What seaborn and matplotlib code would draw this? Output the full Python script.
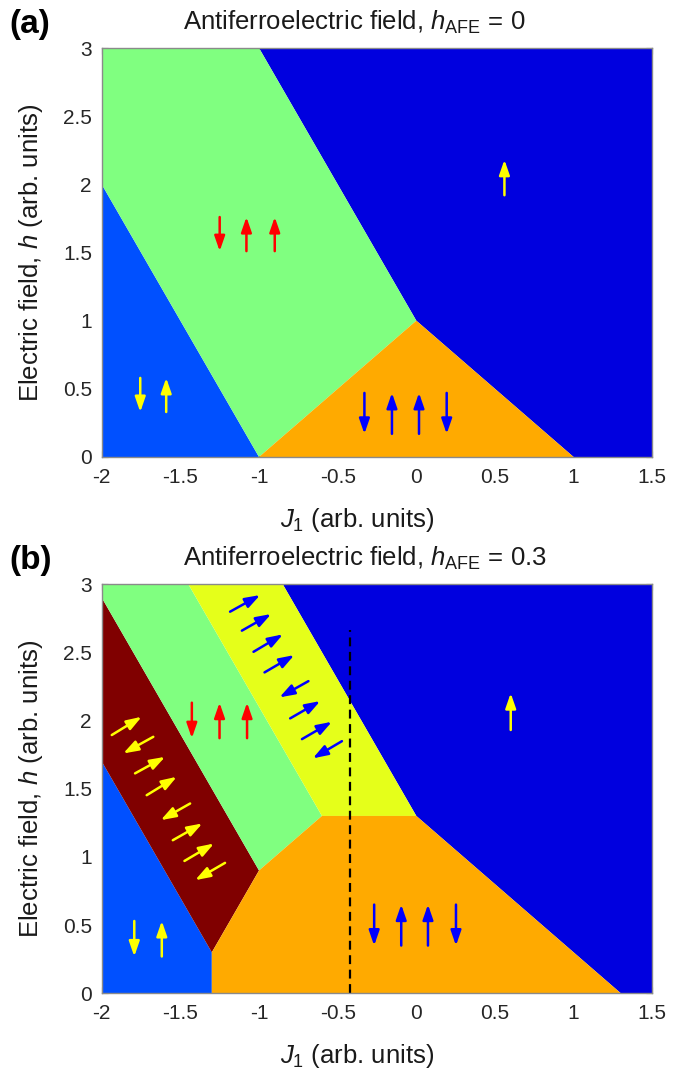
import numpy as np
import pandas as pd
import matplotlib
matplotlib.use("Agg")
import matplotlib.pyplot as plt
import seaborn as sns

# ---------------- data ----------------
J_ticks = [-2, -1.5, -1, -0.5, 0, 0.5, 1, 1.5]
J_tick_labels = ["-2", "-1.5", "-1", "-0.5", "0", "0.5", "1", "1.5"]
h_ticks = [0, 0.5, 1, 1.5, 2, 2.5, 3]
h_tick_labels = ["0", "0.5", "1", "1.5", "2", "2.5", "3"]

titles = ["Antiferroelectric field, $h_{\\mathrm{AFE}}$ = 0",
          "Antiferroelectric field, $h_{\\mathrm{AFE}}$ = 0.3"]
panel_labels = ["(a)", "(b)"]
xlabel = "$J_1$ (arb. units)"
ylabel = "Electric field, $h$ (arb. units)"

# phase regions, panel (a): vertices (J, h)
a_ltblue_J = [-2, -1, -2]
a_ltblue_h = [0, 0, 2]
a_green_J = [-2, -1, 0, -1, -2]
a_green_h = [2, 0, 1, 3, 3]
a_orange_J = [-1, 1, 0]
a_orange_h = [0, 0, 1]
a_dkblue_J = [-1, 0, 1, 1.5, 1.5]
a_dkblue_h = [3, 1, 0, 0, 3]

# phase regions, panel (b)
b_ltblue_J = [-2, -1.3, -1.3, -2]
b_ltblue_h = [0, 0, 0.3, 1.7]
b_maroon_J = [-2, -1.3, -1.0, -2]
b_maroon_h = [1.7, 0.3, 0.9, 2.9]
b_green_J = [-2, -1.0, -0.6, -1.45, -2]
b_green_h = [2.9, 0.9, 1.3, 3, 3]
b_yellow_J = [-1.45, -0.6, 0, -0.85]
b_yellow_h = [3, 1.3, 1.3, 3]
b_orange_J = [-1.3, 1.3, 0, -0.6, -1.0, -1.3]
b_orange_h = [0, 0, 1.3, 1.3, 0.9, 0.3]
b_dkblue_J = [-0.85, 0, 1.3, 1.5, 1.5]
b_dkblue_h = [3, 1.3, 0, 0, 3]

# dashed line in panel (b)
dash_J = [-0.42, -0.42]
dash_h = [0.0, 2.66]

# vertical spin arrows: J positions, direction (+1 up, -1 down), h span
a_red_J = [-1.25, -1.08, -0.90];        a_red_dir = [-1, 1, 1];        a_red_h = [1.51, 1.76]
a_ylw_J = [-1.755, -1.59];              a_ylw_dir = [-1, 1];           a_ylw_h = [0.33, 0.58]
a_blu_J = [-0.33, -0.155, 0.017, 0.193]; a_blu_dir = [-1, 1, 1, -1];   a_blu_h = [0.17, 0.47]
a_fm_J = [0.56];                        a_fm_dir = [1];                a_fm_h = [1.92, 2.18]

b_red_J = [-1.427, -1.251, -1.076];     b_red_dir = [-1, 1, 1];        b_red_h = [1.87, 2.13]
b_ylw_J = [-1.793, -1.618];             b_ylw_dir = [-1, 1];           b_ylw_h = [0.27, 0.53]
b_blu_J = [-0.268, -0.096, 0.074, 0.252]; b_blu_dir = [-1, 1, 1, -1];  b_blu_h = [0.35, 0.65]
b_fm_J = [0.60];                        b_fm_dir = [1];                b_fm_h = [1.93, 2.20]

# diagonal spin arrows in panel (b): tail (J, h) -> head (J, h)
mar_tail_J = [-1.936, -1.672, -1.788, -1.714, -1.438, -1.548, -1.474, -1.216]
mar_tail_h = [1.893, 1.880, 1.612, 1.452, 1.391, 1.122, 0.970, 0.956]
mar_head_J = [-1.746, -1.863, -1.597, -1.523, -1.625, -1.360, -1.286, -1.406]
mar_head_h = [2.027, 1.758, 1.733, 1.587, 1.269, 1.245, 1.098, 0.829]

yel_tail_J = [-1.184, -1.109, -1.035, -0.965, -0.686, -0.802, -0.727, -0.473]
yel_tail_h = [2.797, 2.658, 2.503, 2.352, 2.288, 2.015, 1.863, 1.848]
yel_head_J = [-0.993, -0.923, -0.848, -0.776, -0.870, -0.611, -0.537, -0.658]
yel_head_h = [2.919, 2.780, 2.631, 2.479, 2.169, 2.142, 1.990, 1.722]

# ---------------- style ----------------
C_DKBLUE = "#0000DF"
C_LTBLUE = "#0050FF"
C_GREEN = "#80FF80"
C_ORANGE = "#FFAA00"
C_YELLOW = "#E5FF1A"
C_MAROON = "#800000"
A_RED = "#FF0000"
A_YEL = "#FFFF00"
A_BLU = "#0000FF"

sns.set_theme(style="white")
plt.rcParams["font.family"] = ["Liberation Sans", "DejaVu Sans"]
plt.rcParams["mathtext.fontset"] = "custom"
plt.rcParams["mathtext.rm"] = "Liberation Sans"
plt.rcParams["mathtext.it"] = "Liberation Sans:italic"
plt.rcParams["mathtext.bf"] = "Liberation Sans:bold"
plt.rcParams["axes.unicode_minus"] = False

W, H = 692, 1072
fig = plt.figure(figsize=(W / 100, H / 100), dpi=100)


def fx(px):
    return px / W


def fy(py):
    return 1 - py / H


ax_left, ax_right = 101.7, 652.3
ax_a = fig.add_axes([fx(ax_left), fy(457), (ax_right - ax_left) / W, (457 - 48) / H])
ax_b = fig.add_axes([fx(ax_left), fy(993.3), (ax_right - ax_left) / W, (993.3 - 584) / H])

ARROW = "-|>,head_length=0.75,head_width=0.26"


def vert_arrows(ax, Js, dirs, hspan, color):
    lo, hi = hspan
    for J, d in zip(Js, dirs):
        tail = (J, lo) if d > 0 else (J, hi)
        head = (J, hi) if d > 0 else (J, lo)
        ax.annotate("", xy=head, xytext=tail,
                    arrowprops=dict(arrowstyle=ARROW, color=color, lw=1.8,
                                    shrinkA=0, shrinkB=0))


def diag_arrows(ax, tJ, th, hJ, hh, color):
    for a, b, c, d in zip(tJ, th, hJ, hh):
        ax.annotate("", xy=(c, d), xytext=(a, b),
                    arrowprops=dict(arrowstyle=ARROW, color=color, lw=1.8,
                                    shrinkA=0, shrinkB=0))


# panel (a)
for Js, hs, c in [(a_dkblue_J, a_dkblue_h, C_DKBLUE), (a_ltblue_J, a_ltblue_h, C_LTBLUE),
                  (a_green_J, a_green_h, C_GREEN), (a_orange_J, a_orange_h, C_ORANGE)]:
    ax_a.fill(Js, hs, color=c, lw=0, zorder=1)
vert_arrows(ax_a, a_red_J, a_red_dir, a_red_h, A_RED)
vert_arrows(ax_a, a_ylw_J, a_ylw_dir, a_ylw_h, A_YEL)
vert_arrows(ax_a, a_blu_J, a_blu_dir, a_blu_h, A_BLU)
vert_arrows(ax_a, a_fm_J, a_fm_dir, a_fm_h, A_YEL)

# panel (b)
for Js, hs, c in [(b_dkblue_J, b_dkblue_h, C_DKBLUE), (b_ltblue_J, b_ltblue_h, C_LTBLUE),
                  (b_maroon_J, b_maroon_h, C_MAROON), (b_green_J, b_green_h, C_GREEN),
                  (b_yellow_J, b_yellow_h, C_YELLOW), (b_orange_J, b_orange_h, C_ORANGE)]:
    ax_b.fill(Js, hs, color=c, lw=0, zorder=1)
sns.lineplot(x=dash_J, y=dash_h, ax=ax_b, estimator=None, sort=False, errorbar=None,
             color="black", lw=1.6, zorder=3)
ax_b.lines[-1].set_dashes((4, 2.5))
vert_arrows(ax_b, b_red_J, b_red_dir, b_red_h, A_RED)
vert_arrows(ax_b, b_ylw_J, b_ylw_dir, b_ylw_h, A_YEL)
vert_arrows(ax_b, b_blu_J, b_blu_dir, b_blu_h, A_BLU)
vert_arrows(ax_b, b_fm_J, b_fm_dir, b_fm_h, A_YEL)
diag_arrows(ax_b, mar_tail_J, mar_tail_h, mar_head_J, mar_head_h, A_YEL)
diag_arrows(ax_b, yel_tail_J, yel_tail_h, yel_head_J, yel_head_h, A_BLU)

for ax, top, bot, title, plab in [(ax_a, 48, 457, titles[0], panel_labels[0]),
                                  (ax_b, 584, 993.3, titles[1], panel_labels[1])]:
    ax.set_xlim(-2, 1.5)
    ax.set_ylim(0, 3)
    ax.set_xticks(J_ticks)
    ax.set_xticklabels(J_tick_labels)
    ax.set_yticks(h_ticks)
    ax.set_yticklabels(h_tick_labels)
    ax.tick_params(direction="in", length=4, width=0.8, color="#404040",
                   labelsize=15, labelcolor="#262626", top=True, right=True,
                   bottom=True, left=True)
    ax.tick_params(axis="x", pad=8)
    ax.tick_params(axis="y", pad=7)
    for s in ax.spines.values():
        s.set_color("#8a8a8a")
        s.set_linewidth(1.0)
        s.set_zorder(5)
    ax.set_xlabel("")
    ax.set_ylabel("")
    fig.text(fx(31), fy((top + bot) / 2), ylabel, rotation=90, ha="center",
             va="center", fontsize=18.5, color="#1a1a1a")
    fig.text(fx(357), fy(bot + 70), xlabel, ha="center", va="baseline",
             fontsize=18.5, color="#1a1a1a")
    fig.text(fx(183), fy(top - 18), title, ha="left", va="baseline",
             fontsize=18.5, color="#1a1a1a")
    fig.text(fx(9), fy(top - 39), plab, ha="left", va="top",
             fontsize=24, fontweight="bold", color="black")

fig.savefig("out.png", dpi=100)
